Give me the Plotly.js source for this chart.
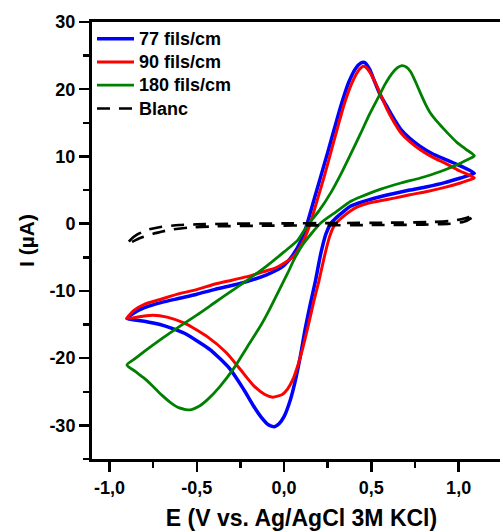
<!DOCTYPE html>
<html><head><meta charset="utf-8">
<script src="https://cdn.plot.ly/plotly-3.0.1.min.js"></script>
<style>html,body{margin:0;padding:0;overflow:hidden;background:#fff}#chart{width:520px;height:531px}</style>
</head><body><div id="chart"></div><script>
// 77 fils/cm (blue)
const E77 = [-0.9,-0.86,-0.8,-0.7,-0.6,-0.5,-0.4,-0.3,-0.2,-0.1,-0.05,0.0,0.05,0.1,0.13,0.17,0.21,0.25,0.29,0.33,0.37,0.41,0.44,0.46,
  0.49,0.515,0.55,0.59,0.63,0.67,0.72,0.78,0.85,0.93,1.01,1.09,
  1.05,1.01,0.92,0.82,0.72,0.63,0.55,0.48,0.42,0.38,0.34,0.30,0.27,0.24,0.21,0.18,0.15,0.12,0.095,0.065,0.035,0.0,-0.03,-0.055,
  -0.09,-0.13,-0.17,-0.23,-0.31,-0.42,-0.5,-0.57,-0.65,-0.71,-0.8,-0.9];
const I77 = [-14.1,-13.3,-12.5,-11.7,-11.1,-10.5,-9.8,-9.2,-8.5,-7.6,-7.0,-6.2,-4.7,-2.4,-0.2,3.4,7.0,10.6,14.3,17.9,21.0,23.1,23.9,24.0,
  23.0,21.4,19.2,17.4,15.6,14.0,12.7,11.5,10.4,9.5,8.6,7.5,
  7.1,6.8,6.1,5.5,5.0,4.5,4.0,3.5,3.0,2.6,1.8,0.9,0.1,-1.5,-4.5,-8.5,-12.0,-15.8,-19.5,-23.3,-26.3,-28.7,-29.8,-30.2,
  -29.9,-28.8,-27.3,-24.7,-21.6,-18.8,-17.4,-16.3,-15.5,-15.0,-14.5,-14.1];
// 90 fils/cm (red)
const E90 = [-0.9,-0.86,-0.8,-0.7,-0.6,-0.5,-0.4,-0.3,-0.2,-0.1,-0.05,0.0,0.06,0.11,0.15,0.19,0.23,0.27,0.31,0.35,0.39,0.43,0.457,
  0.49,0.524,0.56,0.59,0.63,0.67,0.72,0.78,0.85,0.93,1.01,1.09,
  1.05,1.01,0.92,0.82,0.72,0.63,0.55,0.48,0.42,0.38,0.34,0.31,0.285,0.26,0.23,0.20,0.17,0.14,0.11,0.08,0.05,0.02,-0.01,-0.065,
  -0.11,-0.17,-0.25,-0.33,-0.44,-0.57,-0.67,-0.75,-0.82,-0.9];
const I90 = [-14.1,-12.9,-12.0,-11.2,-10.4,-9.8,-9.0,-8.4,-7.8,-7.0,-6.6,-5.9,-4.7,-2.6,0.0,3.5,7.0,10.8,14.6,18.2,21.0,22.9,23.4,
  22.6,20.9,18.8,17.0,15.1,13.5,12.2,11.0,9.9,8.9,7.8,6.8,
  6.4,6.05,5.4,4.8,4.3,3.8,3.4,3.05,2.5,1.9,1.1,0.4,-0.4,-2.0,-5.0,-8.5,-11.6,-15.0,-18.2,-21.0,-23.2,-24.6,-25.4,-25.8,
  -25.4,-24.2,-21.7,-19.2,-16.8,-14.8,-13.9,-13.6,-13.8,-14.1];
// 180 fils/cm (green)
const E180 = [-0.9,-0.85,-0.8,-0.7,-0.6,-0.5,-0.4,-0.3,-0.2,-0.1,0.0,0.08,0.13,0.2,0.27,0.33,0.39,0.44,0.49,0.54,0.58,0.62,0.65,0.675,
  0.7,0.725,0.75,0.78,0.81,0.84,0.89,0.94,0.99,1.04,1.09,
  1.05,1.01,0.9,0.78,0.67,0.55,0.44,0.38,0.3,0.21,0.11,0.06,0.02,-0.03,-0.08,-0.13,-0.21,-0.29,-0.37,-0.44,-0.49,-0.54,
  -0.6,-0.65,-0.7,-0.75,-0.8,-0.85,-0.9];
const I180 = [-21.0,-20.0,-19.0,-17.1,-15.3,-13.6,-11.8,-10.0,-8.2,-6.3,-4.2,-2.4,-0.4,1.9,4.7,7.6,10.8,13.5,16.3,18.8,20.8,22.4,23.2,23.5,
  23.3,22.6,21.3,19.5,17.8,16.4,14.8,13.4,12.1,11.1,10.1,
  9.5,9.0,7.8,6.8,6.05,5.1,4.0,3.3,1.8,0.1,-3.0,-5.2,-7.4,-10.0,-12.6,-15.0,-18.3,-21.6,-24.3,-26.2,-27.2,-27.7,
  -27.4,-26.6,-25.5,-24.2,-23.0,-22.0,-21.0];
// Blanc (black dashed)
const EBlanc = [-0.9,-0.88,-0.84,-0.78,-0.7,-0.6,-0.5,-0.3,0.0,0.3,0.6,0.85,0.95,1.02,1.06,1.09,
  1.07,1.03,0.95,0.8,0.5,0.2,-0.1,-0.4,-0.55,-0.65,-0.75,-0.82,-0.87,-0.9];
const IBlanc = [-3.1,-2.4,-1.6,-0.9,-0.45,-0.2,-0.1,0.0,0.05,0.1,0.15,0.25,0.4,0.7,1.0,1.3,
  0.8,0.3,0.0,-0.15,-0.2,-0.25,-0.3,-0.4,-0.6,-0.9,-1.5,-2.1,-2.7,-3.1];

const seriesNames = ['77 fils/cm','90 fils/cm','180 fils/cm','Blanc'];
const xTickVals = [-1.0,-0.5,0.0,0.5,1.0];
const xTickText = ['-1,0','-0,5','0,0','0,5','1,0'];
const xMinorVals = [-0.75,-0.25,0.25,0.75];
const yTickVals = [-30,-20,-10,0,10,20,30];
const yTickText = ['-30','-20','-10','0','10','20','30'];
const yMinorVals = [-35,-25,-15,-5,5,15,25];

const FONT = 'Liberation Sans, Arial, sans-serif';
const legendName = s => '<span style="font-size:18px">' + s + '</span>';
const mk = (x,y,name,color,w,dash) => ({x:x,y:y,name:legendName(name),type:'scatter',mode:'lines',
  line:{color:color,width:w,dash:dash||'solid',shape:'spline',smoothing:0.6}});
const data = [
  mk(E77,I77,seriesNames[0],'#0000ff',3.5),
  mk(E90,I90,seriesNames[1],'#ff0000',3),
  mk(E180,I180,seriesNames[2],'#008000',2.8),
  mk(EBlanc,IBlanc,seriesNames[3],'#000000',2.6,'13px,9px')
];
const axisBase = {showgrid:false,zeroline:false,showline:true,linewidth:3,linecolor:'#000',mirror:true,
  ticks:'outside',ticklen:10,tickwidth:2.5,tickcolor:'#000',
  tickfont:{family:FONT,size:18,color:'#000',weight:'bold'}};
const layout = {
  width:520,height:531,margin:{l:92,r:9,t:22,b:72},
  paper_bgcolor:'#fff',plot_bgcolor:'#fff',showlegend:true,
  xaxis:Object.assign({},axisBase,{range:[-1.1,1.3],tickmode:'array',tickvals:xTickVals,ticktext:xTickText,
    minor:{tickmode:'array',tickvals:xMinorVals,ticks:'outside',ticklen:6,tickwidth:2.5,tickcolor:'#000'},
    title:{text:'E (V vs. Ag/AgCl 3M KCl)',standoff:14,font:{family:FONT,size:23,color:'#000',weight:'bold'}}}),
  yaxis:Object.assign({},axisBase,{range:[-35,30],tickmode:'array',tickvals:yTickVals,ticktext:yTickText,
    minor:{tickmode:'array',tickvals:yMinorVals,ticks:'outside',ticklen:6,tickwidth:2.5,tickcolor:'#000'},
    title:{text:'I (µA)',standoff:10,font:{family:FONT,size:21,color:'#000',weight:'bold'}}}),
  legend:{x:0,y:1,xanchor:'left',yanchor:'top',bgcolor:'rgba(0,0,0,0)',borderwidth:0,itemwidth:37,
    font:{family:FONT,size:15.6,color:'#000',weight:'bold'},tracegroupgap:0}
};
Plotly.newPlot('chart',data,layout,{displayModeBar:false,staticPlot:true});
</script></body></html>
